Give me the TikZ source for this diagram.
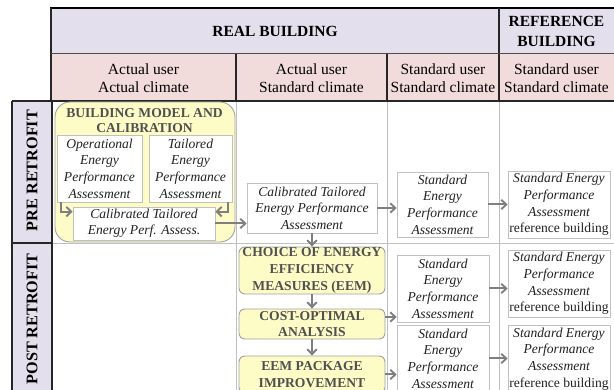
\documentclass[tikz,border=0pt]{standalone}
\usepackage{fontspec}
\setmainfont{Liberation Serif}
\usetikzlibrary{arrows.meta}

\definecolor{hdrlav}{HTML}{E4DFEC}
\definecolor{hdrpink}{HTML}{F2DCDB}
\definecolor{stepfill}{HTML}{FDFBC6}
\definecolor{stepline}{HTML}{A0A0A0}
\definecolor{gridgray}{HTML}{C0C0C0}
\definecolor{arrowgray}{HTML}{7F7F7F}
\definecolor{steptext}{HTML}{505050}
\definecolor{bodytext}{HTML}{222222}

\tikzset{
  italbox/.style={draw=gridgray, line width=0.7pt, fill=white, inner sep=0pt,
    align=center, font=\itshape\fontsize{13.6}{16.6}\selectfont, text=bodytext},
  stepbox/.style={draw=stepline, line width=0.9pt, fill=stepfill, rounded corners=6pt,
    inner sep=0pt, align=center, font=\bfseries\fontsize{13.6}{16.6}\selectfont, text=steptext},
  flow/.style={draw=arrowgray, line width=2pt,
    -{Straight Barb[length=5pt, width=9.5pt, line width=1.9pt]}},
  gridline/.style={draw=gridgray, line width=0.8pt},
  frameline/.style={draw=black!85, line width=1.1pt},
  colhead/.style={font=\fontsize{15.5}{18}\selectfont, align=center},
  tophead/.style={font=\bfseries\fontsize{15.5}{19.5}\selectfont, align=center},
  rowhead/.style={font=\bfseries\fontsize{16.2}{18}\selectfont, rotate=90},
}

\begin{document}
\begin{tikzpicture}[x=1pt, y=-1pt]
\useasboundingbox (0,0) rectangle (614,390);
\begin{scope}
\clip (0,0) rectangle (614,390);

% header and row-label backgrounds
\fill[hdrlav] (51,8) rectangle (614,54);
\fill[hdrpink] (51,54) rectangle (614,101);
\fill[hdrlav] (12,101) rectangle (52,390);

% body grid
\draw[gridline] (236,101) -- (236,390);
\draw[gridline] (387,101) -- (387,390);
\draw[gridline] (499,101) -- (499,390);
\draw[gridline] (52,243) -- (614,243);

% header frame
\draw[draw=black, line width=1.5pt] (50.3,8) -- (614,8);
\draw[frameline] (51,8) -- (51,101);
\draw[frameline] (499,8) -- (499,101);
\draw[draw=black!70, line width=1pt] (51,54) -- (614,54);
\draw[frameline] (236,54) -- (236,101);
\draw[frameline] (387,54) -- (387,101);
\draw[frameline] (12,101) -- (614,101);
\draw[frameline] (12,101) -- (12,390);
\draw[frameline] (52,101) -- (52,390);
\draw[frameline] (12,243) -- (52,243);

% header texts
\node[tophead] (realhd) at (275,31) {REAL BUILDING};
\node[tophead] (refhd) at (556.5,31.5) {REFERENCE\\BUILDING};
\node[colhead] (colA) at (143.5,78.5) {Actual user\\Actual climate};
\node[colhead] (colB) at (311.5,78.5) {Actual user\\Standard climate};
\node[colhead] (colC) at (443,78.5) {Standard user\\Standard climate};
\node[colhead] (colD) at (556.5,78.5) {Standard user\\Standard climate};
\node[rowhead] (prehd) at (32,170.5) {PRE RETROFIT};
\node[rowhead] (posthd) at (32,319) {POST RETROFIT};

% pre-retrofit: model and calibration group
\node[draw=stepline, line width=0.9pt, fill=stepfill, rounded corners=15pt,
      minimum width=180pt, minimum height=140pt, inner sep=0pt] (calib) at (145,172) {};
\node[font=\bfseries\fontsize{13.6}{15}\selectfont, text=steptext, align=center]
      (calibtitle) at (144.5,120.5) {BUILDING MODEL AND\\CALIBRATION};
\node[italbox, minimum width=85pt, minimum height=67pt] (oper) at (99.5,168.5)
      {Operational\\Energy\\Performance\\Assessment};
\node[italbox, minimum width=83pt, minimum height=67pt] (tail) at (190.5,168.5)
      {Tailored\\Energy\\Performance\\Assessment};
\node[italbox, minimum width=142pt, minimum height=33pt, font=\itshape\fontsize{13.6}{16}\selectfont]
      (calass) at (144,223.5) {Calibrated Tailored\\Energy Perf. Assess.};

% pre-retrofit: assessments
\node[italbox, minimum width=130pt, minimum height=50pt] (midass) at (312,208)
      {Calibrated Tailored\\Energy Performance\\Assessment};
\node[italbox, minimum width=91pt, minimum height=65pt] (stdA) at (442.5,204.5)
      {Standard\\Energy\\Performance\\Assessment};
\node[italbox, minimum width=102pt, minimum height=67pt] (refA) at (559,204.5)
      {Standard Energy\\Performance\\Assessment\\\upshape reference building};

% post-retrofit: steps
\node[stepbox, minimum width=146pt, minimum height=47pt] (eemchoice) at (312,270.5)
      {CHOICE OF ENERGY\\EFFICIENCY\\MEASURES (EEM)};
\node[stepbox, minimum width=146pt, minimum height=30pt] (costopt) at (312,324)
      {COST-OPTIMAL\\ANALYSIS};
\node[stepbox, minimum width=146pt, minimum height=37pt] (eempack) at (312,374.5)
      {EEM PACKAGE\\IMPROVEMENT};

% post-retrofit: assessments
\node[italbox, minimum width=92pt, minimum height=67pt] (stdB) at (443,288.5)
      {Standard\\Energy\\Performance\\Assessment};
\node[italbox, minimum width=92pt, minimum height=67pt] (stdC) at (443,358.5)
      {Standard\\Energy\\Performance\\Assessment};
\node[italbox, minimum width=102pt, minimum height=67pt] (refB) at (559,283.5)
      {Standard Energy\\Performance\\Assessment\\\upshape reference building};
\node[italbox, minimum width=102pt, minimum height=67pt] (refC) at (559,359)
      {Standard Energy\\Performance\\Assessment\\\upshape reference building};

% connectors
\coordinate (costout) at ([yshift=7pt]costopt.east);
\draw[flow] ([xshift=4pt]oper.south west) |- ([yshift=-5pt]calass.north west);
\draw[flow] ([xshift=-4pt]tail.south east) |- ([yshift=-5pt]calass.north east);
\draw[flow] (calass.east) -- (midass.west |- calass.east);
\draw[flow] (midass.east) -- (stdA.west |- midass.east);
\draw[flow] (stdA.east) -- (refA.west |- stdA.east);
\draw[flow] (midass.south) -- (eemchoice.north);
\draw[flow] (eemchoice.south) -- (costopt.north);
\draw[flow] (costopt.south) -- (eempack.north);
\draw[flow] (costout) -- (stdB.west |- costout);
\draw[flow] (eempack.east) -- (stdC.west |- eempack.east);
\draw[flow] (stdB.east) -- (refB.west |- stdB.east);
\draw[flow] (stdC.east) -- (refC.west |- stdC.east);
\end{scope}
\end{tikzpicture}
\end{document}
